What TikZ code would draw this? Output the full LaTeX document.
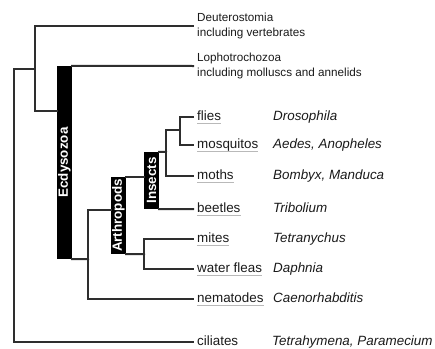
\documentclass[tikz,border=0pt]{standalone}
\usepackage{fontspec}
\setmainfont{Liberation Sans}
\definecolor{linec}{HTML}{2E2E2E}
\definecolor{txt}{HTML}{1A1A1A}
\begin{document}
\begin{tikzpicture}[x=1pt,y=-1pt,
  br/.style={line width=2pt, draw=linec, line cap=rect},
  bar/.style={fill=black, inner sep=0pt, minimum width=15pt, text=white, font=\fontsize{13.4}{16}\selectfont\bfseries},
  leaf/.style={anchor=west, inner xsep=4pt, inner ysep=0pt, text height=9.6pt, text depth=2.6pt, font=\fontsize{13.4}{16}\selectfont, text=txt},
  spec/.style={leaf, inner xsep=0pt, font=\fontsize{13.4}{16}\selectfont\itshape},
  desc/.style={anchor=west, inner xsep=4pt, inner ysep=0pt, align=left, font=\fontsize{11.7}{14.5}\selectfont, text=txt},
  ul/.style={line width=1.4pt, draw=gray!55}]
\useasboundingbox (0,0) rectangle (435,348);

% bars
\node[bar, minimum height=193pt] (ecd) at (64.5,162.5) {\rotatebox{90}{Ecdysozoa}};
\node[bar, minimum height=77pt] (art) at (118.5,215.5) {\rotatebox{90}{Arthropods}};
\node[bar, minimum height=57pt] (ins) at (151.5,180.5) {\rotatebox{90}{Insects}};

% leaves
\node[desc] (deu) at (193,26) {Deuterostomia\\including vertebrates};
\node[desc] (lop) at (193,66) {Lophotrochozoa\\including molluscs and annelids};
\node[leaf] (fli) at (193,117) {flies};
\node[leaf] (mos) at (193,145) {mosquitos};
\node[leaf] (mot) at (193,176) {moths};
\node[leaf] (bee) at (193,209) {beetles};
\node[leaf] (mit) at (193,239) {mites};
\node[leaf] (wat) at (193,269) {water fleas};
\node[leaf] (nem) at (193,299) {nematodes};
\node[leaf] (cil) at (193,342) {ciliates};

% species
\node[spec] (sfli) at (273,117) {Drosophila};
\node[spec] (smos) at (273,145) {Aedes, Anopheles};
\node[spec] (smot) at (273,176) {Bombyx, Manduca};
\node[spec] (sbee) at (273,209) {Tribolium};
\node[spec] (smit) at (273,239) {Tetranychus};
\node[spec] (swat) at (273,269) {Daphnia};
\node[spec] (snem) at (273,299) {Caenorhabditis};
\node[spec] (scil) at (272,342) {Tetrahymena, Paramecium};

% underlines
\foreach \n in {fli,mos,mot,bee,mit,wat,nem}
  \draw[ul] ([xshift=4pt]\n.south west) -- ([xshift=-4pt]\n.south east);

% junctions
\coordinate (r) at (14,69);
\coordinate (j1) at (35,69);
\coordinate (e1) at (57,111);
\coordinate (j2) at (88,259);
\coordinate (a1) at (111,210);
\coordinate (m) at (144,254);
\coordinate (j3) at (166,152);
\coordinate (j4) at (180,130);

% branches
\draw[br] (j1) -- (r) |- (cil.west);
\draw[br] (deu.west) -| (j1) |- (e1);
\draw[br] (ecd.north east) -- (lop.west);
\draw[br] (ecd.south east) -- (j2);
\draw[br] (a1) -| (j2) |- (nem.west);
\draw[br] (art.north east) -- (art.north east -| ins.west);
\draw[br] (art.south east) -- (m);
\draw[br] (mit.west) -| (m) |- (wat.west);
\draw[br] (ins.south east) -- (bee.west);
\draw[br] (ins.north east) -- (j3);
\draw[br] (j4) -| (j3) |- (mot.west);
\draw[br] (fli.west) -| (j4) |- (mos.west);
\end{tikzpicture}
\end{document}
